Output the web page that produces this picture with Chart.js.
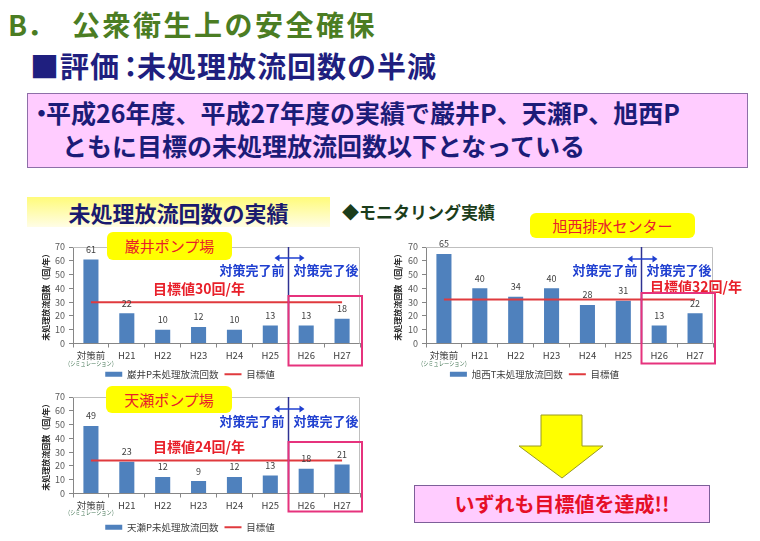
<!DOCTYPE html>
<html>
<head>
<meta charset="utf-8">
<script src="https://cdn.jsdelivr.net/npm/chart.js@4"></script>
<style>
  body { margin: 0; width: 760px; height: 541px; overflow: hidden; background: #fff; position: relative;
         font-family: 'Noto Sans CJK JP', sans-serif; }
  .abs { position: absolute; white-space: nowrap; }
  canvas { position: absolute; }
  .tag { position: absolute; background: #ffff00; border-radius: 6px; color: #e8202a; font-size: 15px; text-align: center; }
</style>
</head>
<body>

<div class="abs" style="left:8px;top:10px;font-size:28px;line-height:28px;font-weight:bold;color:#4b7d23;">B．<span style="position:absolute;left:64px;letter-spacing:2.5px;">公衆衛生上の安全確保</span></div>
<div class="abs" style="left:30px;top:51px;font-size:29px;line-height:29px;font-weight:bold;color:#1f1f7f;letter-spacing:1px;">■評価<span style="letter-spacing:-6px;margin-left:-4px;">：</span><span style="margin-left:-2px;">未処理放流回数の半減</span></div>

<div class="abs" style="left:27px;top:93px;width:721px;height:75px;box-sizing:border-box;background:#ffccff;border:1px solid #8e6fa8;"></div>
<div class="abs" style="left:29px;top:100px;font-size:25px;line-height:25px;font-weight:bold;color:#1c1c78;">・</div>
<div class="abs" style="left:46px;top:100px;font-size:25px;line-height:25px;font-weight:bold;color:#1c1c78;">平成26年度、平成27年度の実績で巌井P、天瀬P、旭西P</div>
<div class="abs" style="left:62px;top:133px;font-size:25px;line-height:25px;font-weight:bold;color:#1c1c78;">ともに目標の未処理放流回数以下となっている</div>

<div class="abs" style="left:27px;top:197px;width:303px;height:30px;background:linear-gradient(to bottom,#fffb7a,#fffde6);text-align:center;font-size:22px;line-height:30px;font-weight:bold;color:#1a1a6e;">未処理放流回数の実績</div>
<div class="abs" style="left:342px;top:203px;font-size:17px;line-height:17px;font-weight:bold;color:#1b3d1b;">◆モニタリング実績</div>

<canvas id="chartIwai" width="360" height="153" style="left:20px;top:236px;"></canvas>
<canvas id="chartKyokusei" width="394" height="153" style="left:356px;top:236px;"></canvas>
<canvas id="chartAmase" width="360" height="156" style="left:20px;top:386px;"></canvas>

<div class="tag" style="left:107px;top:232px;width:125px;height:28px;line-height:28px;">巌井ポンプ場</div>
<div class="tag" style="left:530px;top:213px;width:165px;height:25px;line-height:25px;">旭西排水センター</div>
<div class="tag" style="left:106px;top:386px;width:126px;height:27px;line-height:27px;">天瀬ポンプ場</div>

<svg class="abs" style="left:515px;top:410px;" width="95" height="72">
  <polygon points="26,5 67,5 67,36 88,36 47,68 4,36 26,36" fill="#ffff00" stroke="#9a9a20" stroke-width="1"/>
</svg>
<div class="abs" style="left:414px;top:485px;width:296px;height:38px;box-sizing:border-box;background:#ffccff;border:1px solid #7d5f99;text-align:center;font-size:20px;line-height:36px;font-weight:bold;color:#e60f28;">いずれも目標値を達成!!</div>

<script>
const FONT = "'Noto Sans CJK JP', sans-serif";

// 年度（対策前はシミュレーション値）
const categories = ['対策前', 'H21', 'H22', 'H23', 'H24', 'H25', 'H26', 'H27'];
const yTicks = [0, 10, 20, 30, 40, 50, 60, 70];

// 未処理放流回数（回/年）
const iwaiValues = [61, 22, 10, 12, 10, 13, 13, 18];
const kyokuseiValues = [65, 40, 34, 40, 28, 31, 13, 22];
const amaseValues = [49, 23, 12, 9, 12, 13, 18, 21];

// 目標値
const iwaiTarget = [30, 30, 30, 30, 30, 30, 30, 30];
const kyokuseiTarget = [32, 32, 32, 32, 32, 32, 32, 32];
const amaseTarget = [24, 24, 24, 24, 24, 24, 24, 24];

const BAR_BLUE = '#4f81bd';
const TARGET_RED = '#e03a3e';

// 対策完了前/後の区切り、枠、数値ラベルを描く
const slideMarks = {
  id: 'slideMarks',
  beforeDatasetsDraw(chart) {
    const { ctx, chartArea: a } = chart;
    ctx.save();
    ctx.strokeStyle = '#bfbfbf';
    ctx.lineWidth = 1;
    ctx.beginPath();
    ctx.moveTo(a.left, a.top + 0.5);
    ctx.lineTo(a.right - 0.5, a.top + 0.5);
    ctx.lineTo(a.right - 0.5, a.bottom);
    ctx.stroke();
    ctx.restore();
  },
  afterDatasetsDraw(chart, args, o) {
    const { ctx, chartArea: a, scales: { x } } = chart;
    ctx.save();

    // 棒の上の数値
    const meta = chart.getDatasetMeta(0);
    const vals = chart.data.datasets[0].data;
    ctx.font = '9px ' + FONT;
    ctx.fillStyle = '#404040';
    ctx.textAlign = 'center';
    ctx.textBaseline = 'middle';
    meta.data.forEach((bar, i) => ctx.fillText(vals[i], bar.x, bar.y - 10));

    // （シミュレーション）
    ctx.save();
    ctx.translate(x.getPixelForValue(0), a.bottom + o.simY);
    ctx.scale(0.8, 1);
    ctx.font = '6.5px ' + FONT;
    ctx.fillStyle = '#4a7a5a';
    ctx.fillText('（シミュレーション）', 0, 0);
    ctx.restore();

    // 区切り線
    const dx = Math.round((x.getPixelForValue(5) + x.getPixelForValue(6)) / 2) + 0.5;
    ctx.strokeStyle = '#2e3192';
    ctx.lineWidth = 1.5;
    ctx.beginPath();
    ctx.moveTo(dx, a.top);
    ctx.lineTo(dx, a.bottom);
    ctx.stroke();

    // 両矢印
    const ay = a.top + o.arrowY;
    ctx.strokeStyle = '#1f3fd0';
    ctx.fillStyle = '#1f3fd0';
    ctx.lineWidth = 1.5;
    ctx.beginPath();
    ctx.moveTo(dx - 10, ay);
    ctx.lineTo(dx + 12, ay);
    ctx.stroke();
    ctx.beginPath();
    ctx.moveTo(dx - 14, ay); ctx.lineTo(dx - 9, ay - 3.5); ctx.lineTo(dx - 9, ay + 3.5); ctx.closePath();
    ctx.moveTo(dx + 16, ay); ctx.lineTo(dx + 11, ay - 3.5); ctx.lineTo(dx + 11, ay + 3.5); ctx.closePath();
    ctx.fill();

    ctx.font = 'bold 13px ' + FONT;
    ctx.textBaseline = 'middle';
    ctx.textAlign = 'right';
    ctx.fillText('対策完了前', dx - 4, a.top + o.phaseY);
    ctx.textAlign = 'left';
    ctx.fillText('対策完了後', dx + 5, a.top + o.phaseY);

    // 目標値ラベル
    ctx.font = 'bold 14px ' + FONT;
    ctx.fillStyle = '#e8202a';
    ctx.fillText(o.targetText, a.left + o.targetX, a.top + o.targetY);

    // H26・H27 の枠
    ctx.strokeStyle = '#e6337d';
    ctx.lineWidth = 2;
    ctx.strokeRect(dx, a.top + o.boxTop, a.right + 2 - dx, a.bottom + o.boxBottom - a.top - o.boxTop);

    ctx.restore();
  }
};

function buildChart(id, o) {
  return new Chart(document.getElementById(id), {
    data: {
      labels: categories,
      datasets: [
        { type: 'bar', label: o.legend, data: o.values, backgroundColor: BAR_BLUE,
          barPercentage: 0.42, categoryPercentage: 1, order: 1 },
        { type: 'line', label: '目標値', data: o.target, borderColor: TARGET_RED,
          backgroundColor: TARGET_RED, borderWidth: 2, pointRadius: 0, order: 0 }
      ]
    },
    options: {
      responsive: false,
      animation: false,
      layout: { padding: { top: 11, right: o.padRight, left: 0, bottom: 0 } },
      scales: {
        x: {
          grid: { display: true, drawOnChartArea: false, tickLength: 4, color: '#868686', offset: true },
          border: { color: '#868686' },
          ticks: { color: '#404040', font: { size: 9.5, family: FONT }, padding: 2, maxRotation: 0, autoSkip: false },
          afterFit: s => { s.height = o.xHeight; }
        },
        y: {
          min: 0, max: 70,
          afterBuildTicks: s => { s.ticks = yTicks.map(v => ({ value: v })); },
          ticks: { color: '#595959', font: { size: 9, family: FONT }, padding: 4, autoSkip: false },
          grid: { display: true, drawOnChartArea: false, tickLength: 4, color: '#868686' },
          border: { color: '#868686' },
          title: { display: true, text: '未処理放流回数（回/年）', color: '#262626',
                   font: { size: 8, weight: 'bold', family: FONT }, padding: { top: o.titlePad, bottom: 0 } },
          afterFit: s => { s.width = o.yWidth; }
        }
      },
      plugins: {
        tooltip: { enabled: false },
        legend: {
          position: 'bottom',
          labels: {
            usePointStyle: true, pointStyleWidth: 17, boxHeight: 5, padding: 6,
            color: '#404040', font: { size: 9.5, family: FONT },
            sort: (a, b) => a.datasetIndex - b.datasetIndex,
            generateLabels: chart => Chart.defaults.plugins.legend.labels.generateLabels(chart).map(l =>
              Object.assign(l, l.datasetIndex === 0 ? { pointStyle: 'rect', lineWidth: 0 } : { pointStyle: 'line', lineWidth: 2 }))
          }
        },
        slideMarks: o.marks
      }
    },
    plugins: [slideMarks]
  });
}

buildChart('chartIwai', {
  legend: '巌井P未処理放流回数', values: iwaiValues, target: iwaiTarget,
  padRight: 20, yWidth: 53, titlePad: 21, xHeight: 20,
  marks: { targetText: '目標値30回/年', targetX: 80, targetY: 42, arrowY: 11, phaseY: 23, boxTop: 49, boxBottom: 22, simY: 20 }
});
buildChart('chartKyokusei', {
  legend: '旭西T未処理放流回数', values: kyokuseiValues, target: kyokuseiTarget,
  padRight: 37, yWidth: 70, titlePad: 37, xHeight: 20,
  marks: { targetText: '目標値32回/年', targetX: 224, targetY: 40, arrowY: 12, phaseY: 23, boxTop: 46, boxBottom: 20, simY: 20 }
});
buildChart('chartAmase', {
  legend: '天瀬P未処理放流回数', values: amaseValues, target: amaseTarget,
  padRight: 20, yWidth: 53, titlePad: 21, xHeight: 23,
  marks: { targetText: '目標値24回/年', targetX: 80, targetY: 50, arrowY: 12, phaseY: 24, boxTop: 45, boxBottom: 18, simY: 19 }
});
</script>
</body>
</html>
